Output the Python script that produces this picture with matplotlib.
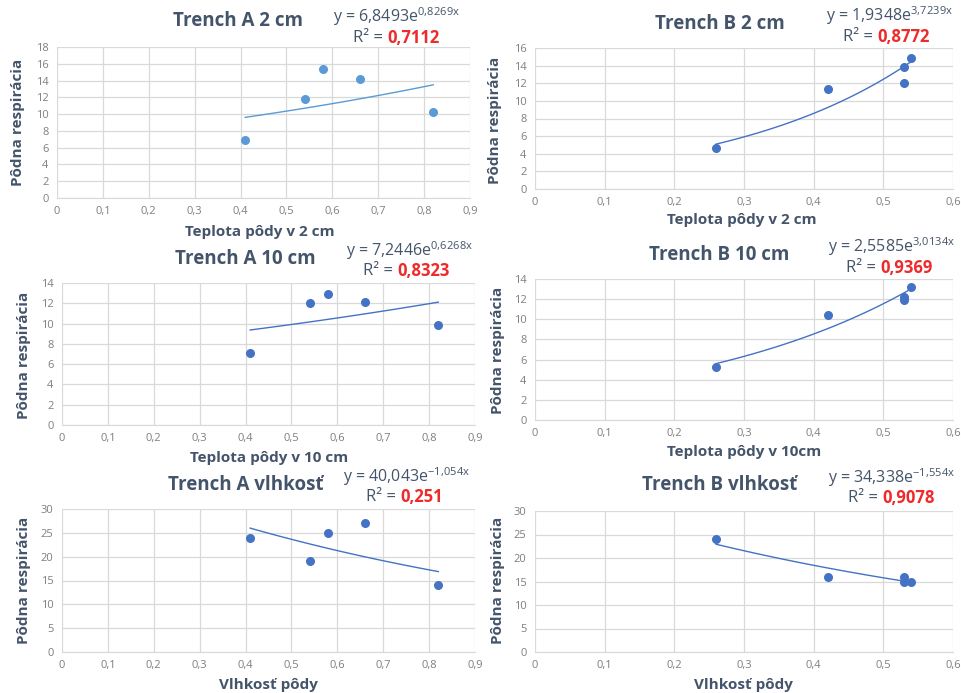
import matplotlib
matplotlib.use("Agg")
import matplotlib.pyplot as plt
import numpy as np

plt.rcParams["font.family"] = ["Open Sans", "DejaVu Sans"]

W, H = 961, 693

# data
x_a = [0.41, 0.54, 0.58, 0.66, 0.82]
x_b = [0.26, 0.42, 0.53, 0.53, 0.54]

resp_a_2cm = [6.9, 11.8, 15.4, 14.2, 10.2]
resp_b_2cm = [4.7, 11.3, 13.9, 12.0, 14.9]
resp_a_10cm = [7.1, 12.0, 12.9, 12.1, 9.9]
resp_b_10cm = [5.3, 10.4, 12.2, 11.9, 13.2]
resp_a_vlh = [24, 19, 25, 27, 14]
resp_b_vlh = [24, 16, 16, 15, 15]

# exponential trend lines  y = a * exp(b x), with R² as printed
fit_a_2cm = (6.8493, 0.8269, "0,7112")
fit_b_2cm = (1.9348, 3.7239, "0,8772")
fit_a_10cm = (7.2446, 0.6268, "0,8323")
fit_b_10cm = (2.5585, 3.0134, "0,9369")
fit_a_vlh = (40.043, -1.054, "0,251")
fit_b_vlh = (34.338, -1.554, "0,9078")

titles = ["Trench A 2 cm", "Trench B 2 cm", "Trench A 10 cm",
          "Trench B 10 cm", "Trench A vlhkosť", "Trench B vlhkosť"]
xlabels = ["Teplota pôdy v 2 cm", "Teplota pôdy v 2 cm", "Teplota pôdy v 10 cm",
           "Teplota pôdy v 10cm", "Vlhkosť pôdy", "Vlhkosť pôdy"]
ylabel = "Pôdna respirácia"

TEXT = "#44546A"
TICK = "#7F7F7F"
GRID = "#D9D9D9"
RED = "#EE2A2A"
BLUE = "#4472C4"
LIGHT = "#5B9BD5"

fig = plt.figure(figsize=(W / 100, H / 100), dpi=100)
fig.patch.set_facecolor("white")


def px_axes(left, top, right, bottom):
    return fig.add_axes([left / W, 1 - bottom / H, (right - left) / W, (bottom - top) / H])


def fig_text(x, y, s, **kw):
    return fig.text(x / W, 1 - y / H, s, **kw)


def fmt(v, step):
    if step < 1:
        return "0" if v == 0 else f"{v:.1f}".replace(".", ",")
    return f"{int(round(v))}"


panels = [
    # box, x, y, fit, xmax, ymax, ystep, colour, title, equation, R², xlabel, ylabel positions
    ((57, 47, 470, 198), x_a, resp_a_2cm, fit_a_2cm, 0.9, 18, 2, LIGHT,
     (238, 21), (460, 17), (440, 38), (260, 232), (18, 122)),
    ((535, 48, 953, 189), x_b, resp_b_2cm, fit_b_2cm, 0.6, 16, 2, BLUE,
     (720, 24), (953, 16), (930, 37), (742, 220), (495, 120)),
    ((62, 283, 475, 425), x_a, resp_a_10cm, fit_a_10cm, 0.9, 14, 2, BLUE,
     (245, 259), (473, 251), (450, 271), (269, 458), (24, 355)),
    ((535, 279, 953, 420), x_b, resp_b_10cm, fit_b_10cm, 0.6, 14, 2, BLUE,
     (719, 255), (955, 247), (933, 268), (744, 452), (498, 350)),
    ((62, 509, 475, 652), x_a, resp_a_vlh, fit_a_vlh, 0.9, 30, 5, BLUE,
     (246, 485), (470, 477), (443, 497), (268, 685), (24, 580)),
    ((535, 511, 953, 652), x_b, resp_b_vlh, fit_b_vlh, 0.6, 30, 5, BLUE,
     (720, 485), (955, 478), (935, 498), (743, 685), (498, 580)),
]

for i, (box, xs, ys, fit, xmax, ymax, ystep, colour, tpos, epos, rpos, xlpos, ylpos) in enumerate(panels):
    ax = px_axes(*box)
    ax.set_xlim(0, xmax)
    ax.set_ylim(0, ymax)
    xt = np.arange(0, xmax + 1e-9, 0.1)
    yt = np.arange(0, ymax + 1e-9, ystep)
    ax.set_xticks(xt)
    ax.set_yticks(yt)
    ax.set_xticklabels([fmt(v, 0.1) for v in xt])
    ax.set_yticklabels([fmt(v, ystep) for v in yt])
    ax.tick_params(length=0, labelsize=8, colors=TICK, pad=6)
    ax.grid(True, color=GRID, linewidth=0.9)
    ax.set_axisbelow(True)
    for side in ("top", "right", "left"):
        ax.spines[side].set_visible(False)
    ax.spines["bottom"].set_color(GRID)

    a, b, r2 = fit
    # trend line drawn from the printed coefficients over the data range
    xf = np.linspace(min(xs), max(xs), 100)
    ax.plot(xf, a * np.exp(b * xf), color=colour, linewidth=1.0, zorder=3)
    ax.scatter(xs, ys, s=30, color=colour, zorder=4, clip_on=False)

    fig_text(*tpos, titles[i], ha="center", va="center",
             fontsize=13.5, fontweight="bold", color=TEXT)

    coef = f"{a:.4f}".rstrip("0").rstrip(".").replace(".", ",") if a < 10 \
        else f"{a:.3f}".replace(".", ",")
    expo = f"{b:.4f}".rstrip("0").replace(".", "{,}")
    fig_text(*epos, f"y = {coef}e" + r"$^{\mathregular{" + expo + "x}}$",
             ha="right", va="center", fontsize=11.5, color=TEXT)
    red = fig_text(*rpos, r2, ha="right", va="center",
                   fontsize=12, fontweight="bold", color=RED)
    ax.annotate("R² = ", xy=(0, 0.5), xycoords=red, ha="right", va="center",
                fontsize=12, color=TEXT, annotation_clip=False)

    fig_text(*xlpos, xlabels[i], ha="center", va="center",
             fontsize=11, fontweight="bold", color=TEXT)
    fig_text(*ylpos, ylabel, ha="center", va="center",
             rotation=90, fontsize=11, fontweight="bold", color=TEXT)

fig.savefig("out.png", dpi=100, facecolor="white")
